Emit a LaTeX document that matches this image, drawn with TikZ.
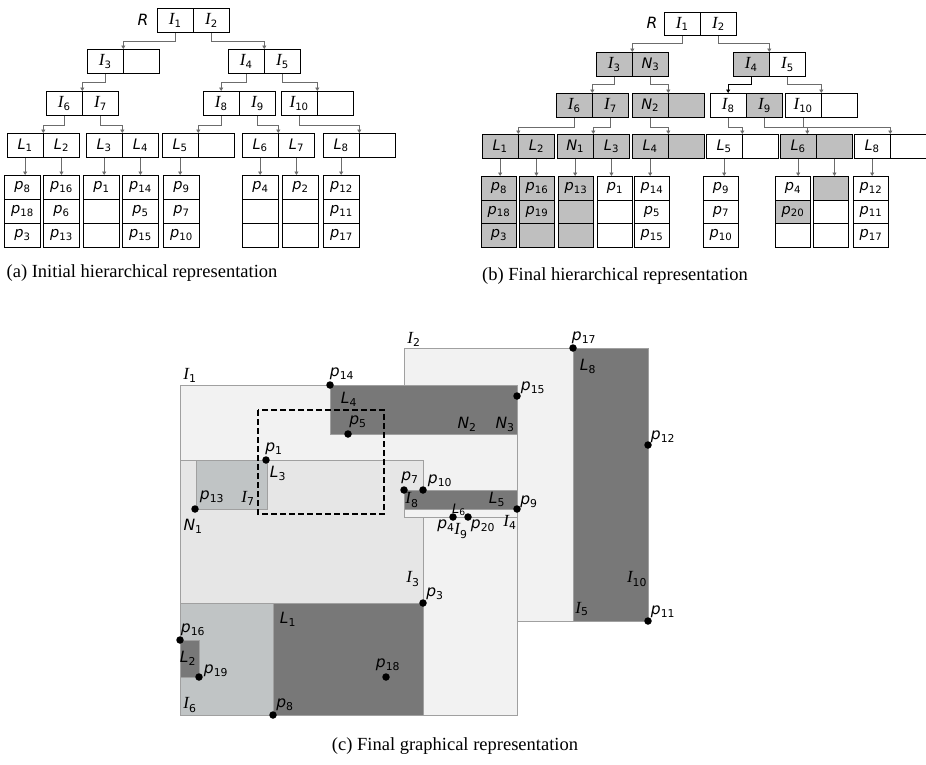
\documentclass[tikz,border=0pt]{standalone}
\usepackage{fontspec}
\setmainfont{Liberation Serif}
\newfontfamily\vfont{DejaVu Sans}
\newfontfamily\tfont{Liberation Serif}
\usetikzlibrary{arrows.meta,calc,positioning}

\definecolor{bglight}{HTML}{F2F2F2}
\definecolor{bgmid}{HTML}{E6E6E6}
\definecolor{bgblue}{HTML}{C0C4C5}
\definecolor{bgdark}{HTML}{787878}
\definecolor{rim}{HTML}{A0A0A0}
\colorlet{sel}{gray!50}
\colorlet{nsel}{white}

% labels: sans italic letters, serif italic I, upright subscripts
\newcommand{\lsub}[1]{\textsubscript{\vfont\upshape #1}}
\newcommand{\Pbl}[1]{{\vfont\itshape p}\lsub{#1}}
\newcommand{\Lbl}[1]{{\vfont\itshape L}\lsub{#1}}
\newcommand{\Nbl}[1]{{\vfont\itshape N}\lsub{#1}}
\newcommand{\Ibl}[1]{{\tfont\itshape\fontsize{17}{17}\selectfont I}\lsub{#1}}

\tikzset{
  cell/.style={draw, line width=0.8pt, anchor=north west, minimum width=35.5pt, minimum height=24pt, inner sep=0pt, font=\fontsize{14.5}{14.5}\selectfont},
  leaf/.style={cell, minimum width=36pt},
  conn/.style={draw=gray!85!black, line width=0.9pt, -{Triangle[width=4pt,length=3.5pt]}},
  region/.style={draw=rim, line width=0.7pt},
  pt/.style={circle, fill=black, inner sep=0pt, minimum size=7.5pt},
  lbl/.style={inner sep=0pt, font=\fontsize{15.5}{15.5}\selectfont},
  captext/.style={inner sep=0pt, font=\fontsize{18.5}{18.5}\selectfont}
}

\begin{document}
\begin{tikzpicture}[x=1pt, y=-1pt]
\useasboundingbox (0,0) rectangle (926,764);

% ---------- (a) initial tree ----------
\node[lbl] (a-R) at (143,20) {{\vfont\itshape R}};
\node[cell] (a-I1) at (157,8) {\Ibl{1}};
\node[cell, right=0pt of a-I1] (a-I2) {\Ibl{2}};

\node[cell] (a-I3) at (87,49) {\Ibl{3}};
\node[cell, right=0pt of a-I3] (a-e1) {};
\node[cell] (a-I4) at (228,49) {\Ibl{4}};
\node[cell, right=0pt of a-I4] (a-I5) {\Ibl{5}};

\node[cell] (a-I6) at (46,91) {\Ibl{6}};
\node[cell, right=0pt of a-I6] (a-I7) {\Ibl{7}};
\node[cell] (a-I8) at (203,91) {\Ibl{8}};
\node[cell, right=0pt of a-I8] (a-I9) {\Ibl{9}};
\node[cell] (a-I10) at (281,91) {\Ibl{10}};
\node[cell, right=0pt of a-I10] (a-e2) {};

\node[cell] (a-L1) at (7,133) {\Lbl{1}};
\node[cell, right=0pt of a-L1] (a-L2) {\Lbl{2}};
\node[cell] (a-L3) at (86,133) {\Lbl{3}};
\node[cell, right=0pt of a-L3] (a-L4) {\Lbl{4}};
\node[cell] (a-L5) at (162,133) {\Lbl{5}};
\node[cell, right=0pt of a-L5] (a-e3) {};
\node[cell] (a-L6) at (242,133) {\Lbl{6}};
\node[cell, right=0pt of a-L6] (a-L7) {\Lbl{7}};
\node[cell] (a-L8) at (323,133) {\Lbl{8}};
\node[cell, right=0pt of a-L8] (a-e4) {};

\foreach \x/\n/\ta/\tb/\tc in {4/1/\Pbl{8}/\Pbl{18}/\Pbl{3}, 43/2/\Pbl{16}/\Pbl{6}/\Pbl{13},
    83/3/\Pbl{1}/{}/{}, 122/4/\Pbl{14}/\Pbl{5}/\Pbl{15}, 163/5/\Pbl{9}/\Pbl{7}/\Pbl{10},
    242/6/\Pbl{4}/{}/{}, 282/7/\Pbl{2}/{}/{}, 323/8/\Pbl{12}/\Pbl{11}/\Pbl{17}} {
  \node[leaf] (a-c\n-1) at (\x,175) {\ta};
  \node[leaf] (a-c\n-2) at (\x,199) {\tb};
  \node[leaf] (a-c\n-3) at (\x,223) {\tc};
}

\draw[conn] (a-I1.south) -- ++(0,9) -| (a-I3.north east);
\draw[conn] (a-I2.south) -- ++(0,9) -| (a-I4.north east);
\draw[conn] (a-I3.south) -- ++(0,9) -| (a-I6.north east);
\draw[conn] (a-I4.south) -- ++(0,9) -| (a-I8.north);
\draw[conn] (a-I5.south) -- ++(0,9) -| (a-I10.north east);
\draw[conn] (a-I6.south) -- ++(0,10) -| (a-L1.north east);
\draw[conn] (a-I7.south) -- ++(0,10) -| (a-L3.north east);
\draw[conn] (a-I8.south) -- ++(0,10) -| (a-L5.north east);
\draw[conn] (a-I9.south) -- ++(0,10) -| (a-L6.north east);
\draw[conn] (a-I10.south) -- ++(0,10) -| (a-L8.north east);
\foreach \l/\n in {L1/1, L2/2, L3/3, L4/4, L5/5, L6/6, L7/7, L8/8}
  \draw[conn] (a-\l.south) -- (a-\l.south |- a-c\n-1.north);

% ---------- (b) final tree ----------
\node[lbl] (b-R) at (652,23) {{\vfont\itshape R}};
\node[cell, minimum height=23pt] (b-I1) at (664,12) {\Ibl{1}};
\node[cell, minimum height=23pt, right=0pt of b-I1] (b-I2) {\Ibl{2}};

\node[cell, fill=sel] (b-I3) at (596,52) {\Ibl{3}};
\node[cell, fill=sel, right=0pt of b-I3] (b-N3) {\Nbl{3}};
\node[cell, fill=sel] (b-I4) at (733,52) {\Ibl{4}};
\node[cell, right=0pt of b-I4] (b-I5) {\Ibl{5}};

\node[cell, fill=sel] (b-I6) at (556,93) {\Ibl{6}};
\node[cell, fill=sel, right=0pt of b-I6] (b-I7) {\Ibl{7}};
\node[cell, fill=sel] (b-N2) at (632,93) {\Nbl{2}};
\node[cell, fill=sel, right=0pt of b-N2] (b-e1) {};
\node[cell] (b-I8) at (710,93) {\Ibl{8}};
\node[cell, fill=sel, right=0pt of b-I8] (b-I9) {\Ibl{9}};
\node[cell] (b-I10) at (785,93) {\Ibl{10}};
\node[cell, right=0pt of b-I10] (b-e2) {};

\node[cell, fill=sel] (b-L1) at (482,134) {\Lbl{1}};
\node[cell, fill=sel, right=0pt of b-L1] (b-L2) {\Lbl{2}};
\node[cell, fill=sel] (b-N1) at (557,134) {\Nbl{1}};
\node[cell, fill=sel, right=0pt of b-N1] (b-L3) {\Lbl{3}};
\node[cell, fill=sel] (b-L4) at (632,134) {\Lbl{4}};
\node[cell, fill=sel, right=0pt of b-L4] (b-e3) {};
\node[cell] (b-L5) at (706,134) {\Lbl{5}};
\node[cell, right=0pt of b-L5] (b-e4) {};
\node[cell, fill=sel] (b-L6) at (780,134) {\Lbl{6}};
\node[cell, fill=sel, right=0pt of b-L6] (b-e5) {};
\node[cell] (b-L8) at (854,134) {\Lbl{8}};
\node[cell, right=0pt of b-L8] (b-e6) {};

\foreach \x/\n/\fa/\fb/\fc/\ta/\tb/\tc in {
    481/1/sel/sel/sel/\Pbl{8}/\Pbl{18}/\Pbl{3}, 519/2/sel/sel/sel/\Pbl{16}/\Pbl{19}/{},
    558/3/sel/sel/sel/\Pbl{13}/{}/{}, 597/4/nsel/nsel/nsel/\Pbl{1}/{}/{},
    634/5/nsel/nsel/nsel/\Pbl{14}/\Pbl{5}/\Pbl{15}, 703/6/nsel/nsel/nsel/\Pbl{9}/\Pbl{7}/\Pbl{10},
    775/7/nsel/sel/nsel/\Pbl{4}/\Pbl{20}/{}, 813/8/sel/nsel/nsel/{}/{}/{},
    853/9/nsel/nsel/nsel/\Pbl{12}/\Pbl{11}/\Pbl{17}} {
  \node[leaf, minimum width=35pt, minimum height=23.5pt, fill=\fa] (b-c\n-1) at (\x,176) {\ta};
  \node[leaf, minimum width=35pt, minimum height=23.5pt, fill=\fb] (b-c\n-2) at (\x,199.5) {\tb};
  \node[leaf, minimum width=35pt, minimum height=23.5pt, fill=\fc] (b-c\n-3) at (\x,223) {\tc};
}

\draw[conn] (b-I1.south) -- ++(0,8) -| (b-I3.north east);
\draw[conn] (b-I2.south) -- ++(0,8) -| (b-I4.north east);
\draw[conn] (b-I3.south) -- ++(0,8) -| (b-I6.north east);
\draw[conn] (b-N3.south) -- ++(0,8) -| (b-N2.north east);
\draw[conn, draw=black] (b-I4.south) -- ++(0,8) -| (b-I8.north);
\draw[conn] (b-I5.south) -- ++(0,8) -| (b-I10.north east);
\draw[conn] (b-I6.south) -- ++(0,10) -| (b-L1.north east);
\draw[conn] (b-I7.south) -- ++(0,10) -| (b-N1.north east);
\draw[conn] (b-N2.south) -- ++(0,10) -| (b-L4.north east);
\draw[conn] (b-I8.south) -- ++(0,10) -| (b-L5.north east);
\draw[conn] (b-I9.south) -- ++(0,10) -| ([xshift=-9pt]b-L6.north east);
\draw[conn] (b-I10.south) -- ++(0,10) -| (b-L8.north east);
\foreach \l/\n in {L1/1, L2/2, N1/3, L3/4, L4/5, L5/6, L6/7, e5/8, L8/9}
  \draw[conn] (b-\l.south) -- (b-\l.south |- b-c\n-1.north);

% ---------- (c) graphical representation ----------
\filldraw[region, fill=bglight] (404,348) rectangle (648,621);
\filldraw[region, fill=bgdark] (573,348) rectangle (648,621);
\filldraw[region, fill=bglight] (180,385) rectangle (517,715);
\filldraw[region, fill=bgmid] (180,460) rectangle (423,715);
\filldraw[region, fill=bgblue] (196,460) rectangle (267,509);
\filldraw[region, fill=bgblue] (180,603) rectangle (273,715);
\filldraw[region, fill=bgdark] (273,603) rectangle (423,715);
\filldraw[region, fill=bgdark] (180,640) rectangle (199,677);
\filldraw[region, fill=bgdark] (330,385) rectangle (517,434);
\filldraw[region, fill=bglight] (404,490) rectangle (517,517);
\filldraw[region, fill=bgdark] (404,490) rectangle (517,509);
\draw[black, line width=1.8pt, dash pattern=on 6pt off 3pt] (258,410) rectangle (384,514);

% points
\foreach \n/\x/\y in {14/330/385, 5/348/434, 15/517/396, 1/266/460, 13/195/509, 7/404/490,
    10/423/490, 9/517/509, 4/453/517, 20/468/517, 17/573/348, 12/648/445, 11/648/621,
    3/423/603, 16/180/640, 19/199/677, 18/386/677, 8/273/715}
  \node[pt] (q\n) at (\x,\y) {};

% region labels
\node[lbl] (t-I1) at (190,375) {\Ibl{1}};
\node[lbl] (t-I2) at (414,339) {\Ibl{2}};
\node[lbl] (t-L4) at (349,399) {\Lbl{4}};
\node[lbl] (t-N2) at (467,424) {\Nbl{2}};
\node[lbl] (t-N3) at (505,424) {\Nbl{3}};
\node[lbl] (t-L8) at (588,366) {\Lbl{8}};
\node[lbl] (t-L3) at (278,473) {\Lbl{3}};
\node[lbl] (t-I7) at (248,498) {\Ibl{7}};
\node[lbl] (t-N1) at (193,526) {\Nbl{1}};
\node[lbl] (t-I8) at (412,500) {\Ibl{8}};
\node[lbl] (t-L5) at (497,499) {\Lbl{5}};
\node[lbl, font=\fontsize{13}{13}\selectfont] (t-L6) at (459,510) {\Lbl{6}};
\node[lbl] (t-I9) at (461,531) {\Ibl{9}};
\node[lbl] (t-I4) at (510,522) {\Ibl{4}};
\node[lbl] (t-I3) at (413,579) {\Ibl{3}};
\node[lbl] (t-L1) at (288,619) {\Lbl{1}};
\node[lbl] (t-L2) at (188,658) {\Lbl{2}};
\node[lbl] (t-I6) at (190,705) {\Ibl{6}};
\node[lbl] (t-I10) at (637,579) {\Ibl{10}};
\node[lbl] (t-I5) at (582,609) {\Ibl{5}};

% point labels
\node[lbl] (t-p14) at (342,374) {\Pbl{14}};
\node[lbl] (t-p5) at (358,422) {\Pbl{5}};
\node[lbl] (t-p15) at (533,388) {\Pbl{15}};
\node[lbl] (t-p1) at (274,449) {\Pbl{1}};
\node[lbl] (t-p13) at (212,497) {\Pbl{13}};
\node[lbl] (t-p7) at (410,478) {\Pbl{7}};
\node[lbl] (t-p10) at (440,481) {\Pbl{10}};
\node[lbl] (t-p9) at (529,502) {\Pbl{9}};
\node[lbl] (t-p4) at (446,526) {\Pbl{4}};
\node[lbl] (t-p20) at (483,526) {\Pbl{20}};
\node[lbl] (t-p17) at (584,338) {\Pbl{17}};
\node[lbl] (t-p12) at (663,437) {\Pbl{12}};
\node[lbl] (t-p11) at (663,612) {\Pbl{11}};
\node[lbl] (t-p3) at (435,594) {\Pbl{3}};
\node[lbl] (t-p16) at (193,630) {\Pbl{16}};
\node[lbl] (t-p19) at (216,671) {\Pbl{19}};
\node[lbl] (t-p18) at (388,665) {\Pbl{18}};
\node[lbl] (t-p8) at (285,705) {\Pbl{8}};

% captions
\node[captext] (cap-a) at (142,273) {(a) Initial hierarchical representation};
\node[captext] (cap-b) at (615,276) {(b) Final hierarchical representation};
\node[captext] (cap-c) at (455,746) {(c) Final graphical representation};
\end{tikzpicture}
\end{document}
